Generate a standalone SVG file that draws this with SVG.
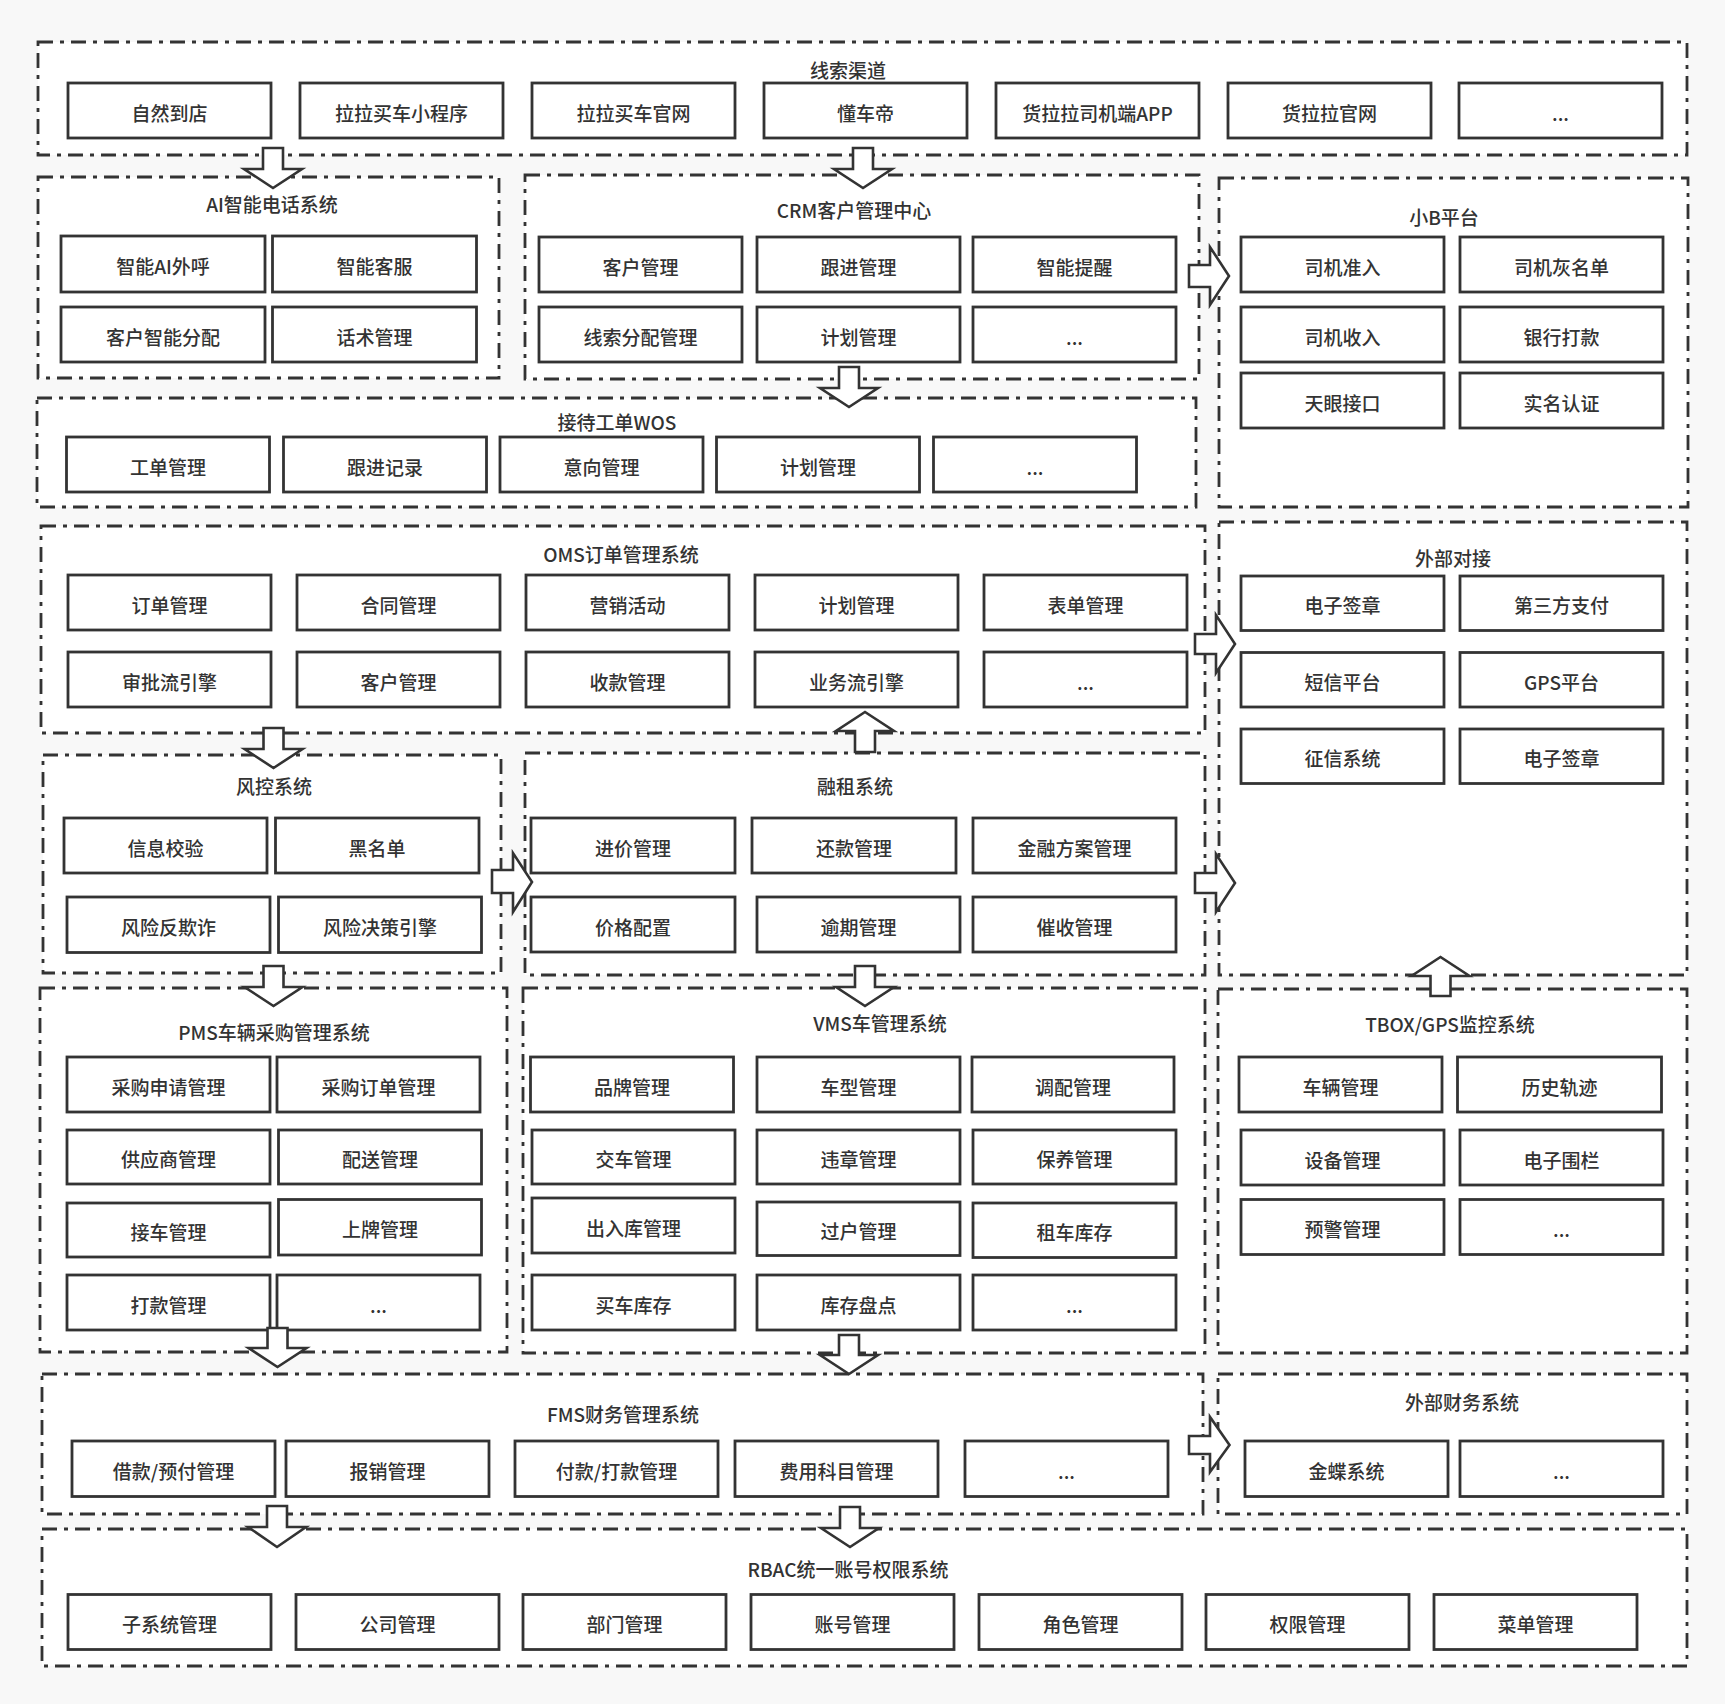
<svg xmlns="http://www.w3.org/2000/svg" width="1725" height="1704" viewBox="0 0 1725 1704">
<style>
.bg{fill:#f8f8f8}
.grp{fill:#ffffff;stroke:#333;stroke-width:2.8;stroke-dasharray:15 7 4 7}
.node rect{fill:#ffffff;stroke:#333;stroke-width:2.8}
text{font-family:"Noto Sans CJK SC","Noto Sans",sans-serif;fill:#333;text-anchor:middle;dominant-baseline:central}
.node text{font-size:19px;font-weight:500}
.title{font-size:19px;font-weight:500}
.arrow{fill:#ffffff;stroke:#333;stroke-width:2.6;stroke-linejoin:miter}
</style>
<rect class="bg" x="0" y="0" width="1725" height="1704"/>
<g id="containers">
<g id="g-leads"><rect class="grp" x="38" y="42" width="1649" height="113"/><text class="title" x="848" y="69">线索渠道</text></g>
<g id="g-ai"><rect class="grp" x="38" y="177" width="461" height="201"/><text class="title" x="272" y="203">AI智能电话系统</text></g>
<g id="g-crm"><rect class="grp" x="525" y="175" width="674" height="204"/><text class="title" x="854" y="209">CRM客户管理中心</text></g>
<g id="g-xb"><rect class="grp" x="1219" y="178" width="469" height="329"/><text class="title" x="1444" y="216">小B平台</text></g>
<g id="g-wos"><rect class="grp" x="37" y="398" width="1159" height="109"/><text class="title" x="617" y="421">接待工单WOS</text></g>
<g id="g-oms"><rect class="grp" x="41" y="526" width="1164" height="207"/><text class="title" x="621" y="553">OMS订单管理系统</text></g>
<g id="g-risk"><rect class="grp" x="43" y="755" width="458" height="218"/><text class="title" x="274" y="785">风控系统</text></g>
<g id="g-lease"><rect class="grp" x="525" y="753" width="680" height="222"/><text class="title" x="855" y="785">融租系统</text></g>
<g id="g-ext"><rect class="grp" x="1219" y="522" width="468" height="453"/><text class="title" x="1453" y="557">外部对接</text></g>
<g id="g-pms"><rect class="grp" x="40" y="988" width="467" height="364"/><text class="title" x="274" y="1031">PMS车辆采购管理系统</text></g>
<g id="g-vms"><rect class="grp" x="523" y="988" width="682" height="365"/><text class="title" x="880" y="1022">VMS车管理系统</text></g>
<g id="g-tbox"><rect class="grp" x="1218" y="989" width="469" height="364"/><text class="title" x="1450" y="1023">TBOX/GPS监控系统</text></g>
<g id="g-fms"><rect class="grp" x="42" y="1374" width="1161" height="140"/><text class="title" x="623" y="1413">FMS财务管理系统</text></g>
<g id="g-extfin"><rect class="grp" x="1218" y="1374" width="469" height="140"/><text class="title" x="1462" y="1401">外部财务系统</text></g>
<g id="g-rbac"><rect class="grp" x="42" y="1529" width="1645" height="137"/><text class="title" x="848" y="1568">RBAC统一账号权限系统</text></g>
</g>
<g id="nodes">
<g class="node" id="n1"><rect x="68" y="83" width="203" height="55"/><text x="169.5" y="112">自然到店</text></g>
<g class="node" id="n2"><rect x="300" y="83" width="203" height="55"/><text x="401.5" y="112">拉拉买车小程序</text></g>
<g class="node" id="n3"><rect x="532" y="83" width="203" height="55"/><text x="633.5" y="112">拉拉买车官网</text></g>
<g class="node" id="n4"><rect x="764" y="83" width="203" height="55"/><text x="865.5" y="112">懂车帝</text></g>
<g class="node" id="n5"><rect x="996" y="83" width="203" height="55"/><text x="1097.5" y="112">货拉拉司机端APP</text></g>
<g class="node" id="n6"><rect x="1228" y="83" width="203" height="55"/><text x="1329.5" y="112">货拉拉官网</text></g>
<g class="node" id="n7"><rect x="1459" y="83" width="203" height="55"/><text x="1560.5" y="112">...</text></g>

<g class="node" id="n8"><rect x="61" y="236" width="204" height="56"/><text x="163" y="265.5">智能AI外呼</text></g>
<g class="node" id="n9"><rect x="272.5" y="236" width="204" height="56"/><text x="374.5" y="265.5">智能客服</text></g>
<g class="node" id="n10"><rect x="61" y="307" width="204" height="55"/><text x="163" y="336">客户智能分配</text></g>
<g class="node" id="n11"><rect x="272.5" y="307" width="204" height="55"/><text x="374.5" y="336">话术管理</text></g>

<g class="node" id="n12"><rect x="539" y="237" width="203" height="55"/><text x="640.5" y="266">客户管理</text></g>
<g class="node" id="n13"><rect x="757" y="237" width="203" height="55"/><text x="858.5" y="266">跟进管理</text></g>
<g class="node" id="n14"><rect x="973" y="237" width="203" height="55"/><text x="1074.5" y="266">智能提醒</text></g>
<g class="node" id="n15"><rect x="539" y="307" width="203" height="55"/><text x="640.5" y="336">线索分配管理</text></g>
<g class="node" id="n16"><rect x="757" y="307" width="203" height="55"/><text x="858.5" y="336">计划管理</text></g>
<g class="node" id="n17"><rect x="973" y="307" width="203" height="55"/><text x="1074.5" y="336">...</text></g>

<g class="node" id="n18"><rect x="1241" y="237" width="203" height="55"/><text x="1342.5" y="266">司机准入</text></g>
<g class="node" id="n19"><rect x="1460" y="237" width="203" height="55"/><text x="1561.5" y="266">司机灰名单</text></g>
<g class="node" id="n20"><rect x="1241" y="307" width="203" height="55"/><text x="1342.5" y="336">司机收入</text></g>
<g class="node" id="n21"><rect x="1460" y="307" width="203" height="55"/><text x="1561.5" y="336">银行打款</text></g>
<g class="node" id="n22"><rect x="1241" y="373" width="203" height="55"/><text x="1342.5" y="402">天眼接口</text></g>
<g class="node" id="n23"><rect x="1460" y="373" width="203" height="55"/><text x="1561.5" y="402">实名认证</text></g>

<g class="node" id="n24"><rect x="66.5" y="437" width="203" height="55"/><text x="168" y="466">工单管理</text></g>
<g class="node" id="n25"><rect x="283.5" y="437" width="203" height="55"/><text x="385" y="466">跟进记录</text></g>
<g class="node" id="n26"><rect x="500" y="437" width="203" height="55"/><text x="601.5" y="466">意向管理</text></g>
<g class="node" id="n27"><rect x="716.5" y="437" width="203" height="55"/><text x="818" y="466">计划管理</text></g>
<g class="node" id="n28"><rect x="933.5" y="437" width="203" height="55"/><text x="1035" y="466">...</text></g>

<g class="node" id="n29"><rect x="68" y="575" width="203" height="55"/><text x="169.5" y="604">订单管理</text></g>
<g class="node" id="n30"><rect x="297" y="575" width="203" height="55"/><text x="398.5" y="604">合同管理</text></g>
<g class="node" id="n31"><rect x="526" y="575" width="203" height="55"/><text x="627.5" y="604">营销活动</text></g>
<g class="node" id="n32"><rect x="755" y="575" width="203" height="55"/><text x="856.5" y="604">计划管理</text></g>
<g class="node" id="n33"><rect x="984" y="575" width="203" height="55"/><text x="1085.5" y="604">表单管理</text></g>
<g class="node" id="n34"><rect x="68" y="652" width="203" height="55"/><text x="169.5" y="681">审批流引擎</text></g>
<g class="node" id="n35"><rect x="297" y="652" width="203" height="55"/><text x="398.5" y="681">客户管理</text></g>
<g class="node" id="n36"><rect x="526" y="652" width="203" height="55"/><text x="627.5" y="681">收款管理</text></g>
<g class="node" id="n37"><rect x="755" y="652" width="203" height="55"/><text x="856.5" y="681">业务流引擎</text></g>
<g class="node" id="n38"><rect x="984" y="652" width="203" height="55"/><text x="1085.5" y="681">...</text></g>

<g class="node" id="n39"><rect x="64" y="818" width="203" height="55"/><text x="165.5" y="847">信息校验</text></g>
<g class="node" id="n40"><rect x="275.5" y="818" width="203.5" height="55"/><text x="377" y="847">黑名单</text></g>
<g class="node" id="n41"><rect x="67" y="897" width="203" height="55.5"/><text x="168.5" y="926.5">风险反欺诈</text></g>
<g class="node" id="n42"><rect x="278.5" y="897" width="203" height="55.5"/><text x="380" y="926.5">风险决策引擎</text></g>

<g class="node" id="n43"><rect x="531" y="818" width="204" height="55"/><text x="633" y="847">进价管理</text></g>
<g class="node" id="n44"><rect x="752" y="818" width="204" height="55"/><text x="854" y="847">还款管理</text></g>
<g class="node" id="n45"><rect x="973" y="818" width="203" height="55"/><text x="1074.5" y="847">金融方案管理</text></g>
<g class="node" id="n46"><rect x="531" y="897" width="204" height="55"/><text x="633" y="926">价格配置</text></g>
<g class="node" id="n47"><rect x="757" y="897" width="203" height="55"/><text x="858.5" y="926">逾期管理</text></g>
<g class="node" id="n48"><rect x="973" y="897" width="203" height="55"/><text x="1074.5" y="926">催收管理</text></g>

<g class="node" id="n49"><rect x="1241" y="576" width="203" height="54.5"/><text x="1342.5" y="604.5">电子签章</text></g>
<g class="node" id="n50"><rect x="1460" y="576" width="203" height="54.5"/><text x="1561.5" y="604.5">第三方支付</text></g>
<g class="node" id="n51"><rect x="1241" y="652.5" width="203" height="54.5"/><text x="1342.5" y="681">短信平台</text></g>
<g class="node" id="n52"><rect x="1460" y="652.5" width="203" height="54.5"/><text x="1561.5" y="681">GPS平台</text></g>
<g class="node" id="n53"><rect x="1241" y="729" width="203" height="54.5"/><text x="1342.5" y="757.5">征信系统</text></g>
<g class="node" id="n54"><rect x="1460" y="729" width="203" height="54.5"/><text x="1561.5" y="757.5">电子签章</text></g>

<g class="node" id="n55"><rect x="67" y="1057" width="203" height="55"/><text x="168.5" y="1086">采购申请管理</text></g>
<g class="node" id="n56"><rect x="277" y="1057" width="203" height="55"/><text x="378.5" y="1086">采购订单管理</text></g>
<g class="node" id="n57"><rect x="67" y="1130" width="203" height="54"/><text x="168.5" y="1158.5">供应商管理</text></g>
<g class="node" id="n58"><rect x="278.5" y="1130" width="203" height="54"/><text x="380" y="1158.5">配送管理</text></g>
<g class="node" id="n59"><rect x="67" y="1203" width="203" height="54"/><text x="168.5" y="1231.5">接车管理</text></g>
<g class="node" id="n60"><rect x="278.5" y="1199.5" width="203" height="55.5"/><text x="380" y="1228.5">上牌管理</text></g>
<g class="node" id="n61"><rect x="67" y="1275" width="203" height="55"/><text x="168.5" y="1304">打款管理</text></g>
<g class="node" id="n62"><rect x="277" y="1275" width="203" height="55"/><text x="378.5" y="1304">...</text></g>

<g class="node" id="n63"><rect x="530.5" y="1057" width="203" height="55"/><text x="632" y="1086">品牌管理</text></g>
<g class="node" id="n64"><rect x="757" y="1057" width="203" height="55"/><text x="858.5" y="1086">车型管理</text></g>
<g class="node" id="n65"><rect x="972" y="1057" width="202" height="55"/><text x="1073" y="1086">调配管理</text></g>
<g class="node" id="n66"><rect x="532" y="1130" width="203" height="54"/><text x="633.5" y="1158.5">交车管理</text></g>
<g class="node" id="n67"><rect x="757" y="1130" width="203" height="54"/><text x="858.5" y="1158.5">违章管理</text></g>
<g class="node" id="n68"><rect x="973" y="1130" width="203" height="54"/><text x="1074.5" y="1158.5">保养管理</text></g>
<g class="node" id="n69"><rect x="532" y="1198" width="203" height="55"/><text x="633.5" y="1227">出入库管理</text></g>
<g class="node" id="n70"><rect x="757" y="1202" width="203" height="53.5"/><text x="858.5" y="1230">过户管理</text></g>
<g class="node" id="n71"><rect x="973" y="1203" width="203" height="54.5"/><text x="1074.5" y="1231.5">租车库存</text></g>
<g class="node" id="n72"><rect x="532" y="1275" width="203" height="55"/><text x="633.5" y="1304">买车库存</text></g>
<g class="node" id="n73"><rect x="757" y="1275" width="203" height="55"/><text x="858.5" y="1304">库存盘点</text></g>
<g class="node" id="n74"><rect x="973" y="1275" width="203" height="55"/><text x="1074.5" y="1304">...</text></g>

<g class="node" id="n75"><rect x="1239" y="1057" width="203" height="55"/><text x="1340.5" y="1086">车辆管理</text></g>
<g class="node" id="n76"><rect x="1457.5" y="1057" width="204" height="55"/><text x="1559.5" y="1086">历史轨迹</text></g>
<g class="node" id="n77"><rect x="1241" y="1130" width="203" height="55"/><text x="1342.5" y="1159">设备管理</text></g>
<g class="node" id="n78"><rect x="1460" y="1130" width="203" height="55"/><text x="1561.5" y="1159">电子围栏</text></g>
<g class="node" id="n79"><rect x="1241" y="1199.5" width="203" height="55"/><text x="1342.5" y="1228.5">预警管理</text></g>
<g class="node" id="n80"><rect x="1460" y="1199.5" width="203" height="55"/><text x="1561.5" y="1228.5">...</text></g>

<g class="node" id="n81"><rect x="72" y="1441" width="203" height="55.5"/><text x="173.5" y="1470.5">借款/预付管理</text></g>
<g class="node" id="n82"><rect x="286" y="1441" width="203" height="55.5"/><text x="387.5" y="1470.5">报销管理</text></g>
<g class="node" id="n83"><rect x="515" y="1441" width="203" height="55.5"/><text x="616.5" y="1470.5">付款/打款管理</text></g>
<g class="node" id="n84"><rect x="735" y="1441" width="203" height="55.5"/><text x="836.5" y="1470.5">费用科目管理</text></g>
<g class="node" id="n85"><rect x="965" y="1441" width="203" height="55.5"/><text x="1066.5" y="1470.5">...</text></g>

<g class="node" id="n86"><rect x="1245" y="1441" width="203" height="55.5"/><text x="1346.5" y="1470.5">金蝶系统</text></g>
<g class="node" id="n87"><rect x="1460" y="1441" width="203" height="55.5"/><text x="1561.5" y="1470.5">...</text></g>

<g class="node" id="n88"><rect x="68" y="1594.5" width="203" height="55"/><text x="169.5" y="1623.5">子系统管理</text></g>
<g class="node" id="n89"><rect x="296" y="1594.5" width="203" height="55"/><text x="397.5" y="1623.5">公司管理</text></g>
<g class="node" id="n90"><rect x="523" y="1594.5" width="203" height="55"/><text x="624.5" y="1623.5">部门管理</text></g>
<g class="node" id="n91"><rect x="751" y="1594.5" width="203" height="55"/><text x="852.5" y="1623.5">账号管理</text></g>
<g class="node" id="n92"><rect x="979" y="1594.5" width="203" height="55"/><text x="1080.5" y="1623.5">角色管理</text></g>
<g class="node" id="n93"><rect x="1206" y="1594.5" width="203" height="55"/><text x="1307.5" y="1623.5">权限管理</text></g>
<g class="node" id="n94"><rect x="1434" y="1594.5" width="203" height="55"/><text x="1535.5" y="1623.5">菜单管理</text></g>
</g>
<g id="connectors">
<polygon class="arrow" points="263,148 283,148 283,169 302,169 273,188 244,169 263,169"/>
<polygon class="arrow" points="853,148 873,148 873,169 892,169 863,188 834,169 853,169"/>
<polygon class="arrow" points="839,367 859,367 859,388 878,388 849,407 820,388 839,388"/>
<polygon class="arrow" points="1189,265 1210,265 1210,247 1229,276 1210,305 1210,287 1189,287"/>
<polygon class="arrow" points="1195,634 1216,634 1216,615 1235,644 1216,673 1216,654 1195,654"/>
<polygon class="arrow" points="1195,873 1216,873 1216,854 1235,883 1216,912 1216,893 1195,893"/>
<polygon class="arrow" points="263.5,728 283.5,728 283.5,749 302.5,749 273.5,768 244.5,749 263.5,749"/>
<polygon class="arrow" points="855,752 875,752 875,731 894,731 865,712 836,731 855,731"/>
<polygon class="arrow" points="492,870 513,870 513,853 532,882 513,912 513,893 492,893"/>
<polygon class="arrow" points="263.5,966 283.5,966 283.5,987 302.5,987 273.5,1006 244.5,987 263.5,987"/>
<polygon class="arrow" points="855,966 875,966 875,987 894,987 865,1006 836,987 855,987"/>
<polygon class="arrow" points="1430.5,996 1450.5,996 1450.5,976 1469.5,976 1440.5,957 1411.5,976 1430.5,976"/>
<polygon class="arrow" points="267.5,1328 287.5,1328 287.5,1348 306.5,1348 277.5,1367 248.5,1348 267.5,1348"/>
<polygon class="arrow" points="839,1335 859,1335 859,1355 878,1355 849,1374 820,1355 839,1355"/>
<polygon class="arrow" points="1189,1436 1210,1436 1210,1417 1229.5,1445 1210,1472 1210,1454 1189,1454"/>
<polygon class="arrow" points="267,1506 287,1506 287,1527 306,1527 277,1547 248,1527 267,1527"/>
<polygon class="arrow" points="840,1507 860,1507 860,1528 879,1528 850,1547 821,1528 840,1528"/>
</g>
</svg>
